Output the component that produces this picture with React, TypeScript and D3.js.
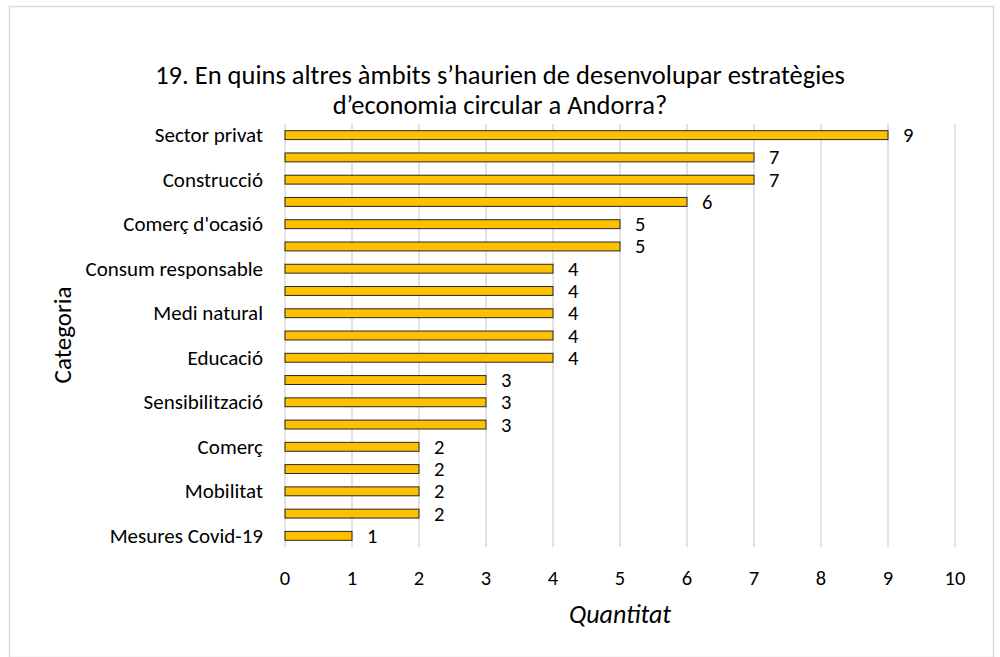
import React from "react";
import * as d3 from "d3";

// only every other category label is visible in the source chart
const categories = [
  "Sector privat",
  "",
  "Construcció",
  "",
  "Comerç d'ocasió",
  "",
  "Consum responsable",
  "",
  "Medi natural",
  "",
  "Educació",
  "",
  "Sensibilització",
  "",
  "Comerç",
  "",
  "Mobilitat",
  "",
  "Mesures Covid-19",
];
const values = [9, 7, 7, 6, 5, 5, 4, 4, 4, 4, 4, 3, 3, 3, 2, 2, 2, 2, 1];
const xTicks = [0, 1, 2, 3, 4, 5, 6, 7, 8, 9, 10];
const titleLines = [
  "19. En quins altres àmbits s’haurien de desenvolupar estratègies",
  "d’economia circular a Andorra?",
];

const W = 1000;
const H = 657;
const margin = { top: 124, right: 45, bottom: 110, left: 285 };
const font = "Carlito, Calibri, 'Liberation Sans', Arial, sans-serif";

const App = () => {
  const keys = categories.map((_, i) => String(i));
  const x = d3
    .scaleLinear()
    .domain([0, 10])
    .range([margin.left, W - margin.right]);
  const y = d3
    .scaleBand()
    .domain(keys)
    .range([margin.top, H - margin.bottom])
    .paddingInner(0.6)
    .paddingOuter(0.3);

  const plotBottom = H - margin.bottom;
  const mid = (i: number) => (y(keys[i]) as number) + y.bandwidth() / 2;

  return (
    <svg width={W} height={H} style={{ position: "absolute", left: 0, top: 0 }}>
      <rect x={0} y={0} width={W} height={H} fill="#fff" />
      <rect
        x={9.5}
        y={6.5}
        width={W - 16}
        height={H - 6}
        fill="#fff"
        stroke="#d9d9d9"
        strokeWidth={1.5}
      />

      {/* title */}
      {titleLines.map((t, i) => (
        <text
          key={i}
          x={500}
          y={84 + i * 30}
          textAnchor="middle"
          fontFamily={font}
          fontSize={26.5}
          fill="#000"
        >
          {t}
        </text>
      ))}

      {/* gridlines */}
      {xTicks.map((t) => (
        <line
          key={t}
          x1={x(t)}
          x2={x(t)}
          y1={margin.top}
          y2={plotBottom}
          stroke="#d9d9d9"
          strokeWidth={1.5}
        />
      ))}

      {/* bars */}
      {values.map((v, i) => (
        <rect
          key={i}
          x={x(0)}
          y={y(keys[i])}
          width={x(v) - x(0)}
          height={y.bandwidth()}
          fill="#ffc000"
          stroke="#262626"
          strokeWidth={1}
        />
      ))}

      {/* value labels */}
      {values.map((v, i) => (
        <text
          key={i}
          x={x(v) + 15}
          y={mid(i) + 7}
          fontFamily={font}
          fontSize={20.5}
          fill="#000"
        >
          {v}
        </text>
      ))}

      {/* category labels */}
      {categories.map((c, i) =>
        c ? (
          <text
            key={i}
            x={margin.left - 22}
            y={mid(i) + 7}
            textAnchor="end"
            fontFamily={font}
            fontSize={21}
            fill="#000"
          >
            {c}
          </text>
        ) : null
      )}

      {/* x tick labels */}
      {xTicks.map((t) => (
        <text
          key={t}
          x={x(t)}
          y={585}
          textAnchor="middle"
          fontFamily={font}
          fontSize={20.5}
          fill="#000"
        >
          {t}
        </text>
      ))}

      <text
        x={620}
        y={623}
        textAnchor="middle"
        fontFamily={font}
        fontSize={26}
        fontStyle="italic"
        fill="#000"
      >
        Quantitat
      </text>
      <text
        transform={`translate(71, 335) rotate(-90)`}
        textAnchor="middle"
        fontFamily={font}
        fontSize={25}
        fill="#000"
      >
        Categoria
      </text>
    </svg>
  );
};

export default App;
